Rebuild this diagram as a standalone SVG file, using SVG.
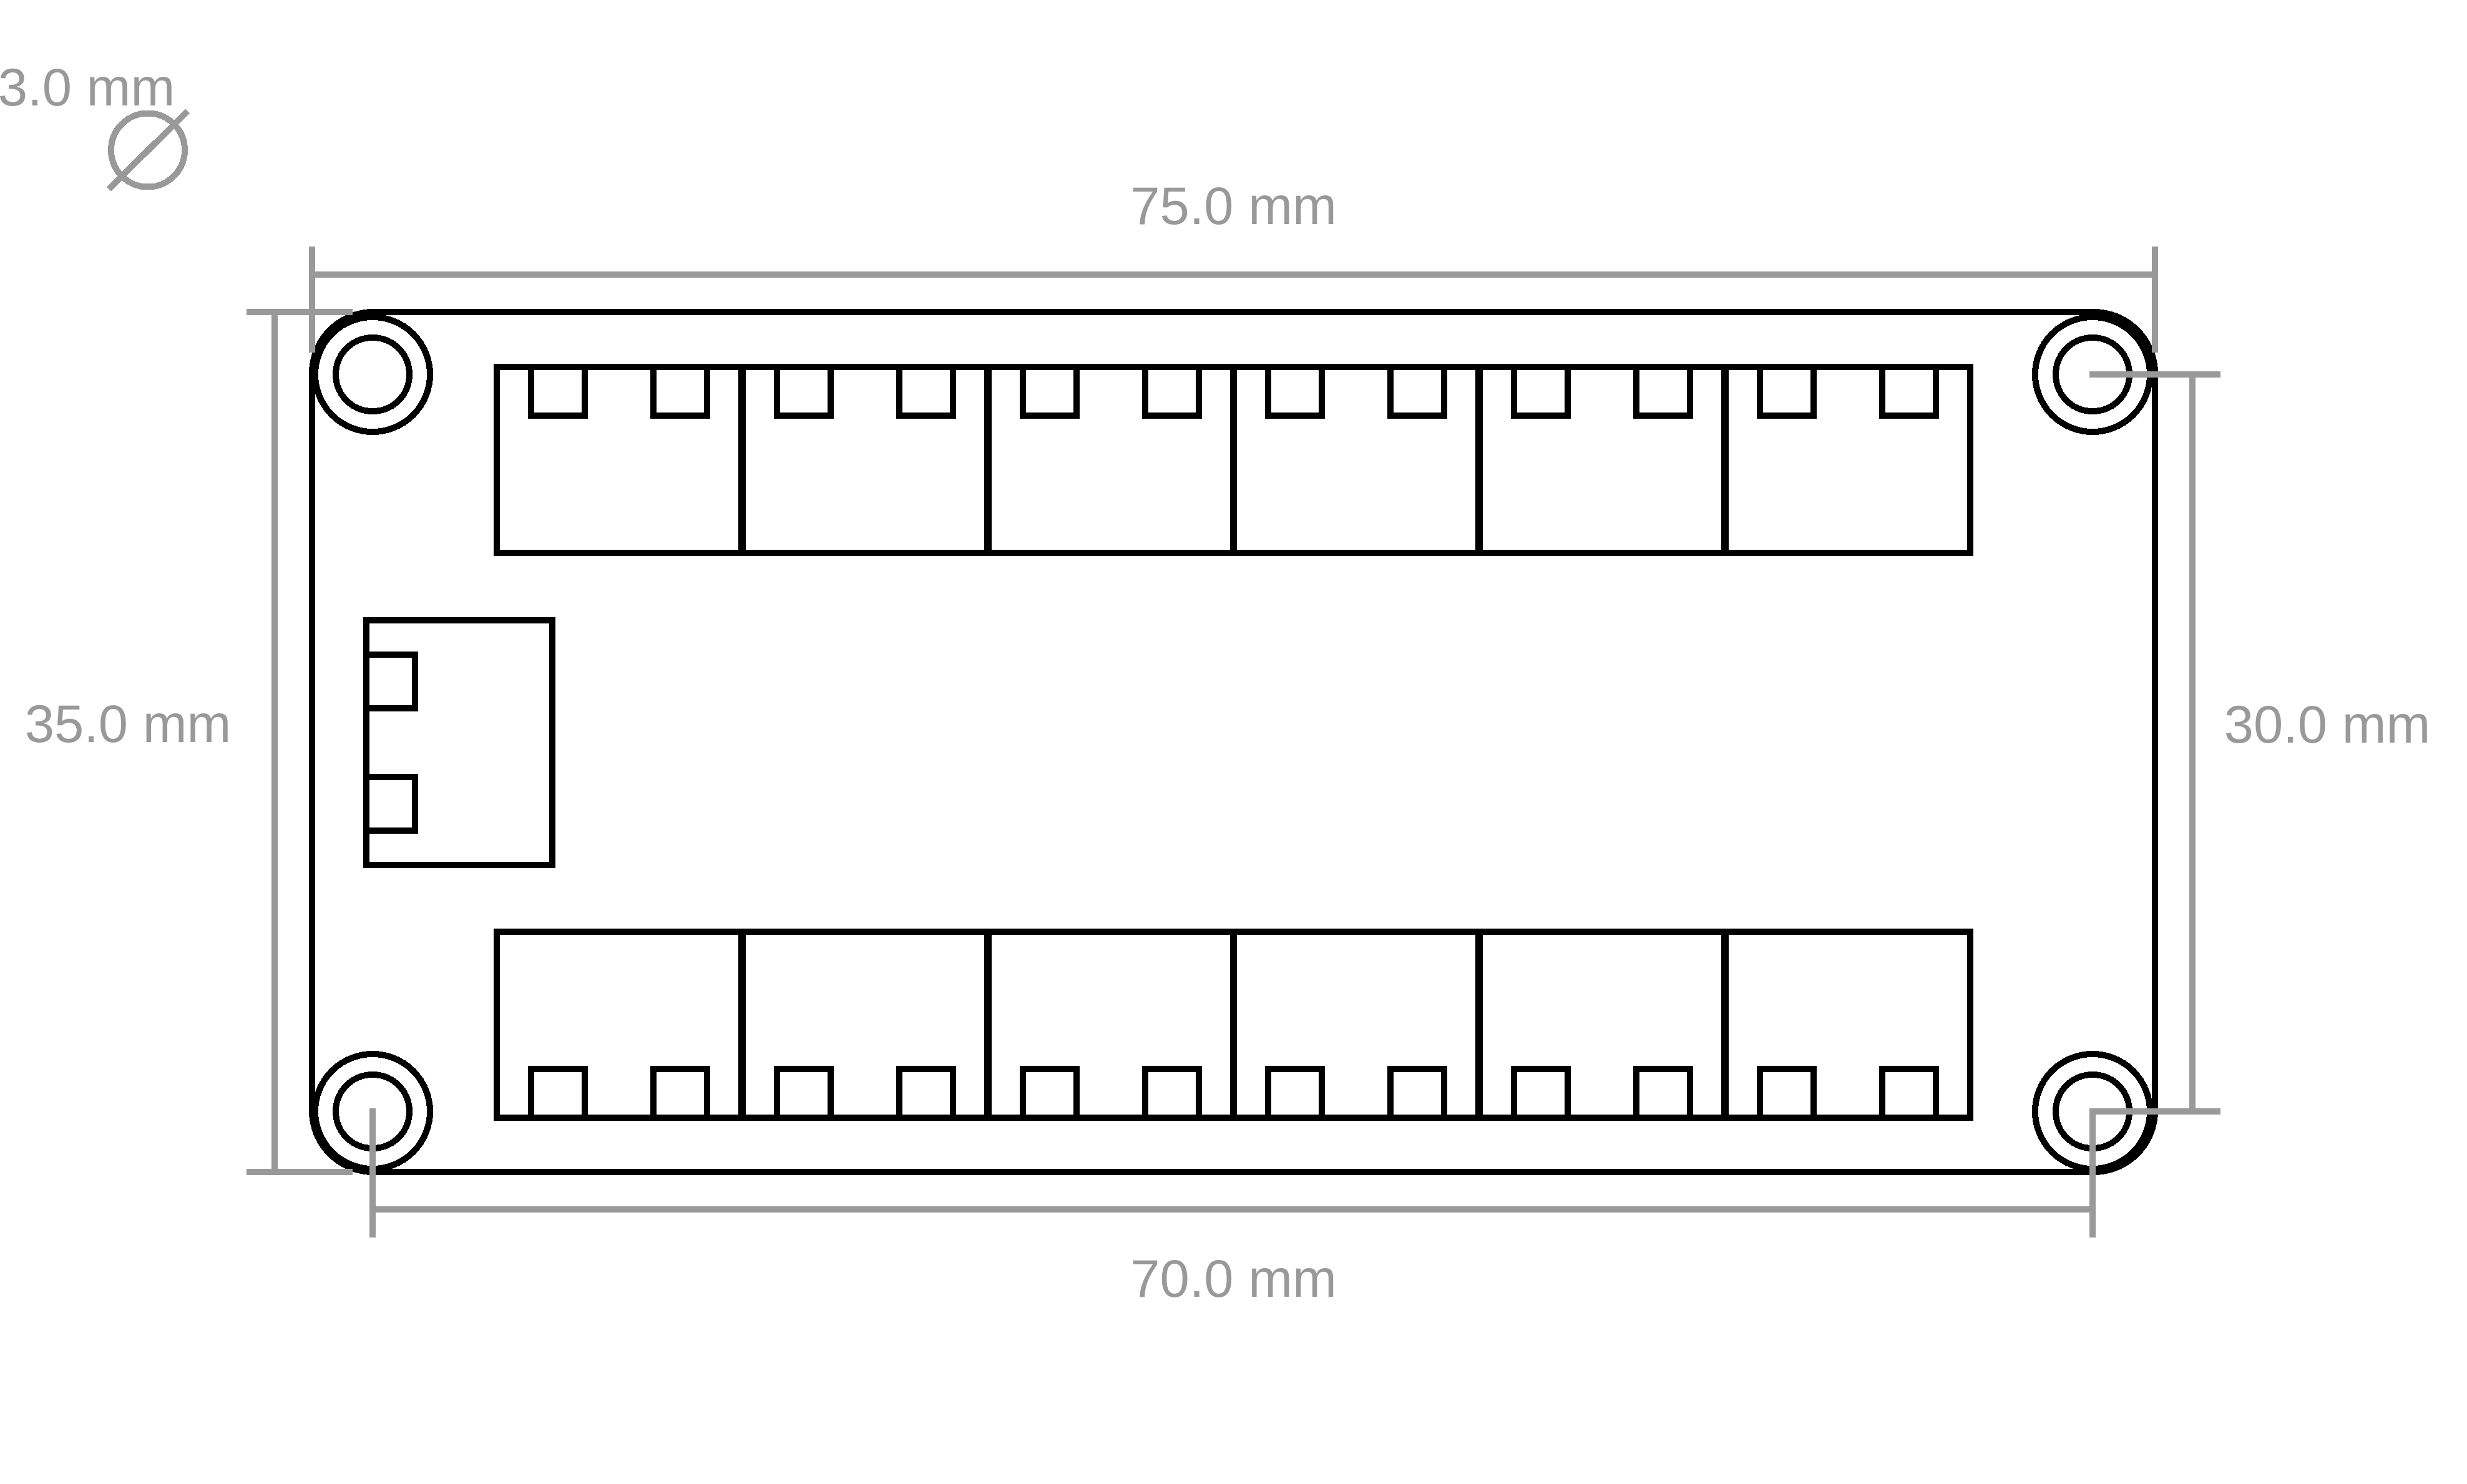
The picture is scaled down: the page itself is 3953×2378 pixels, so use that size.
<svg xmlns="http://www.w3.org/2000/svg" width="3953" height="2378" viewBox="0 0 3953 2378">
<style>
.o{fill:none;stroke:#000;stroke-width:10;shape-rendering:crispEdges}
.d{fill:none;stroke:#999;stroke-width:10;shape-rendering:crispEdges}
text{font-family:"Liberation Sans",Arial,sans-serif;font-size:85px;fill:#999;text-anchor:middle}
</style>
<rect width="3953" height="2378" fill="#fff"/>
<g id="board"><rect class="o" x="500" y="500" width="2953" height="1378" rx="98" ry="98"/></g>
<g id="hole-tl"><circle class="o" cx="597" cy="600" r="92"/><circle class="o" cx="597" cy="600" r="59"/></g>
<g id="hole-tr"><circle class="o" cx="3353" cy="600" r="92"/><circle class="o" cx="3353" cy="600" r="59"/></g>
<g id="hole-bl"><circle class="o" cx="597" cy="1781" r="92"/><circle class="o" cx="597" cy="1781" r="59"/></g>
<g id="hole-br"><circle class="o" cx="3353" cy="1781" r="92"/><circle class="o" cx="3353" cy="1781" r="59"/></g>
<g id="top-1"><rect class="o" x="796" y="588" width="392" height="298"/><rect class="o" x="851" y="588" width="86" height="78"/><rect class="o" x="1047" y="588" width="86" height="78"/></g>
<g id="top-2"><rect class="o" x="1190" y="588" width="392" height="298"/><rect class="o" x="1245" y="588" width="86" height="78"/><rect class="o" x="1441" y="588" width="86" height="78"/></g>
<g id="top-3"><rect class="o" x="1584" y="588" width="392" height="298"/><rect class="o" x="1639" y="588" width="86" height="78"/><rect class="o" x="1835" y="588" width="86" height="78"/></g>
<g id="top-4"><rect class="o" x="1977" y="588" width="392" height="298"/><rect class="o" x="2032" y="588" width="86" height="78"/><rect class="o" x="2228" y="588" width="86" height="78"/></g>
<g id="top-5"><rect class="o" x="2371" y="588" width="392" height="298"/><rect class="o" x="2426" y="588" width="86" height="78"/><rect class="o" x="2622" y="588" width="86" height="78"/></g>
<g id="top-6"><rect class="o" x="2765" y="588" width="392" height="298"/><rect class="o" x="2820" y="588" width="86" height="78"/><rect class="o" x="3016" y="588" width="86" height="78"/></g>
<g id="bottom-1"><rect class="o" x="796" y="1493" width="392" height="298"/><rect class="o" x="851" y="1713" width="86" height="78"/><rect class="o" x="1047" y="1713" width="86" height="78"/></g>
<g id="bottom-2"><rect class="o" x="1190" y="1493" width="392" height="298"/><rect class="o" x="1245" y="1713" width="86" height="78"/><rect class="o" x="1441" y="1713" width="86" height="78"/></g>
<g id="bottom-3"><rect class="o" x="1584" y="1493" width="392" height="298"/><rect class="o" x="1639" y="1713" width="86" height="78"/><rect class="o" x="1835" y="1713" width="86" height="78"/></g>
<g id="bottom-4"><rect class="o" x="1977" y="1493" width="392" height="298"/><rect class="o" x="2032" y="1713" width="86" height="78"/><rect class="o" x="2228" y="1713" width="86" height="78"/></g>
<g id="bottom-5"><rect class="o" x="2371" y="1493" width="392" height="298"/><rect class="o" x="2426" y="1713" width="86" height="78"/><rect class="o" x="2622" y="1713" width="86" height="78"/></g>
<g id="bottom-6"><rect class="o" x="2765" y="1493" width="392" height="298"/><rect class="o" x="2820" y="1713" width="86" height="78"/><rect class="o" x="3016" y="1713" width="86" height="78"/></g>
<g id="left-module"><rect class="o" x="587" y="994" width="298" height="392"/><rect class="o" x="587" y="1049" width="78" height="86"/><rect class="o" x="587" y="1245" width="78" height="86"/></g>
<g id="connectors">
<path class="d" d="M500 395V565M3453 395V565M500 440H3453"/>
<path class="d" d="M395 500H565M395 1878H565M440 500V1878"/>
<path class="d" d="M3348 600H3558M3348 1781H3558M3513 600V1781"/>
<path class="d" d="M597 1776V1983M3353 1776V1983M597 1938H3353"/>
</g>
<g id="hole-symbol"><circle class="d" cx="237" cy="240.5" r="59"/><path class="d" d="M174.500 303L300.500 178"/></g>
<g id="labels">
<text x="138.500" y="169">3.0 mm</text>
<text x="1976.500" y="359">75.0 mm</text>
<text x="1976.500" y="2078">70.0 mm</text>
<text x="205" y="1189">35.0 mm</text>
<text x="3729" y="1190">30.0 mm</text>
</g>
</svg>
